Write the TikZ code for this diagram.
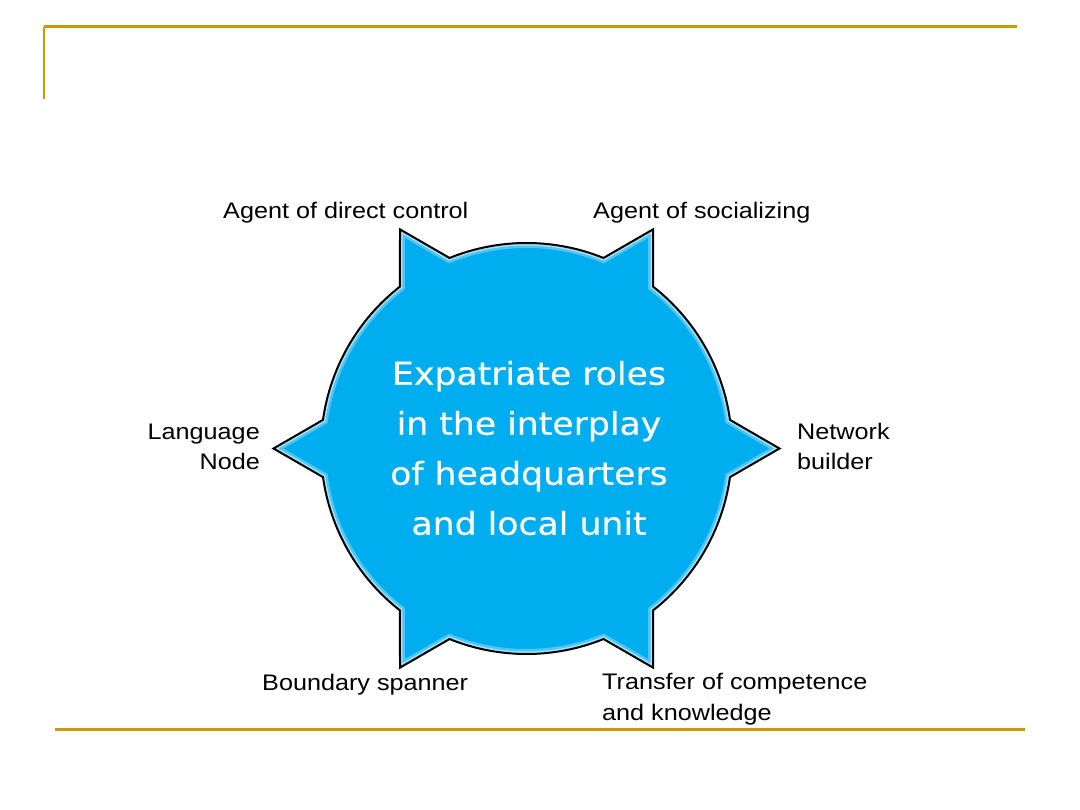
\documentclass[tikz,border=0pt]{standalone}
\usepackage{fontspec}
\usepackage{xcolor}
\newfontfamily\rolefont[FakeStretch=1.12]{Liberation Sans}
\newfontfamily\hubfont[FakeStretch=1.1,FakeBold=0.4]{DejaVu Sans}
\definecolor{qgold}{RGB}{204,153,0}
\definecolor{qcyan}{RGB}{0,174,239}
\tikzset{
  role/.style={inner sep=0pt, font=\rolefont\fontsize{22.5}{30.5}\selectfont},
  hub/.style={inner sep=0pt, align=center, text=white, font=\hubfont\fontsize{31.5}{50}\selectfont}
}

\begin{document}
\begin{tikzpicture}[x=1pt,y=-1pt]
\def\R{205.5}
\def\T{253}
\def\w{8}

\useasboundingbox (0,0) rectangle (1080,810);

%Frame lines:
\draw[qgold,line width=3pt] (44,27) -- (1017,27);
\draw[qgold,line width=2pt] (44,27) -- (44,99);
\draw[qgold,line width=3pt] (55,729) -- (1025,729);

%Star shape:
\def\spikes{(\w:\R) \foreach \a in {60,120,...,360} {arc[start angle=\a-60+\w, end angle=\a-\w, radius=\R] -- (\a:\T) -- (\a+\w:\R)} -- cycle}
\begin{scope}[shift={(526.5,448.5)}]
\fill[qcyan] \spikes;
\begin{scope}
\clip \spikes;
\draw[white,opacity=0.3,line width=10pt] \spikes;
\draw[white,opacity=0.5,line width=5pt] \spikes;
\end{scope}
\draw[line width=2pt,line join=miter] \spikes;
\end{scope}

\node[hub] (hub) at (529,448) {Expatriate roles\\in the interplay\\of headquarters\\and local unit};

%Roles:
\node[role,anchor=base west] (ctrl) at (223,219) {Agent of direct control};
\node[role,anchor=base west] (social) at (593,219) {Agent of socializing};
\node[role,anchor=base east,align=right] (lang) at (260,470) {Language\\Node};
\node[role,anchor=base west,align=left] (network) at (797,470) {Network\\builder};
\node[role,anchor=base west] (boundary) at (262,690) {Boundary spanner};
\node[role,anchor=base west,align=left] (transfer) at (602,720) {Transfer of competence\\and knowledge};

\end{tikzpicture}
\end{document}
